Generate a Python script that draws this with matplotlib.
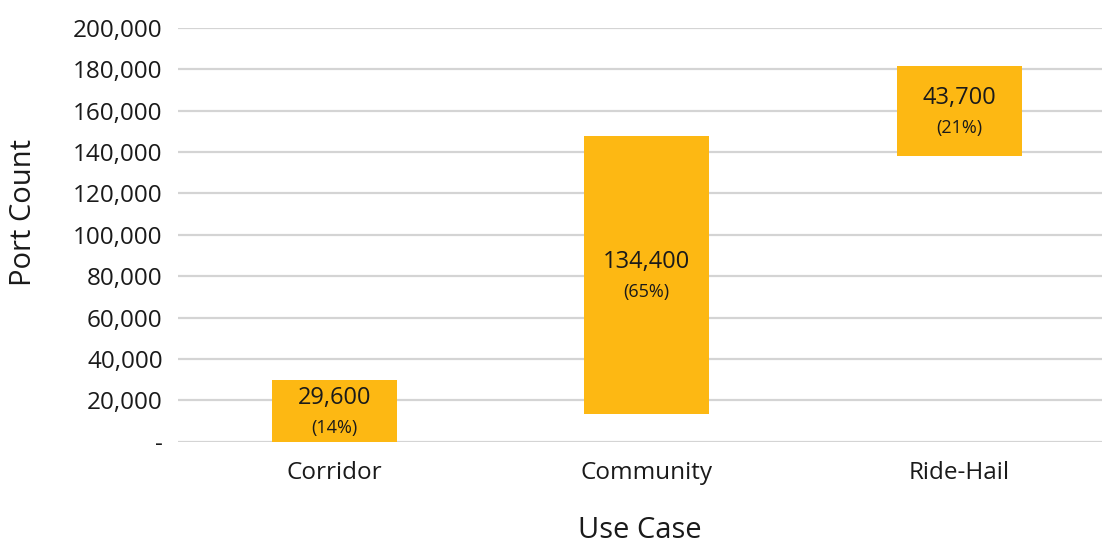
import matplotlib.pyplot as plt
from matplotlib.ticker import FuncFormatter

# floating bars: each use case stacked on its own base
use_cases = ['Corridor', 'Community', 'Ride-Hail']
port_counts = [29600, 134400, 43700]
bar_bases = [0, 13500, 137900]
shares = ['(14%)', '(65%)', '(21%)']
y_ticks = [0, 20000, 40000, 60000, 80000, 100000, 120000, 140000, 160000, 180000, 200000]

plt.rcParams['font.family'] = ['Open Sans', 'DejaVu Sans']

fig = plt.figure(figsize=(11.02, 5.44), dpi=100)
ax = fig.add_axes([178/1102, 1 - 441.7/544, 1 - 178/1102, (441.7 - 28)/544])

x = range(len(use_cases))
bars = ax.bar(x, port_counts, bottom=bar_bases, width=0.4, color='#fdb813', zorder=3)

for i, b in enumerate(bars):
    cy = bar_bases[i] + port_counts[i] / 2
    ax.annotate(f'{port_counts[i]:,}', (i, cy), xytext=(0, 13), textcoords='offset pixels',
                ha='center', va='center', fontsize=17, color='#1a1a1a', zorder=4)
    ax.annotate(shares[i], (i, cy), xytext=(0, -17), textcoords='offset pixels',
                ha='center', va='center', fontsize=13, color='#1a1a1a', zorder=4)

# the plot runs a little past the right edge of the figure
ax.set_xlim(-0.5, -0.5 + (1102 - 178) / 312.5)
ax.set_ylim(0, 200000)
ax.set_yticks(y_ticks)
ax.yaxis.set_major_formatter(FuncFormatter(lambda v, p: '-' if v == 0 else f'{int(v):,}'))
ax.set_xticks(list(x))
ax.set_xticklabels(use_cases)

ax.grid(axis='y', color='#d4d4d4', linewidth=1.6, zorder=0)
ax.tick_params(axis='both', length=0, labelsize=17.5, colors='#1a1a1a')
ax.tick_params(axis='y', pad=11)
ax.tick_params(axis='x', pad=14)
for s in ax.spines.values():
    s.set_visible(False)

ax.set_ylabel('Port Count', fontsize=21, color='#1a1a1a')
ax.yaxis.set_label_coords(38 / 1102, 1 - 213 / 544, transform=fig.transFigure)
ax.set_xlabel('Use Case', fontsize=21, color='#1a1a1a')
ax.xaxis.set_label_coords(640 / 1102, 1 - 516 / 544, transform=fig.transFigure)

fig.savefig('out.png', dpi=100)
